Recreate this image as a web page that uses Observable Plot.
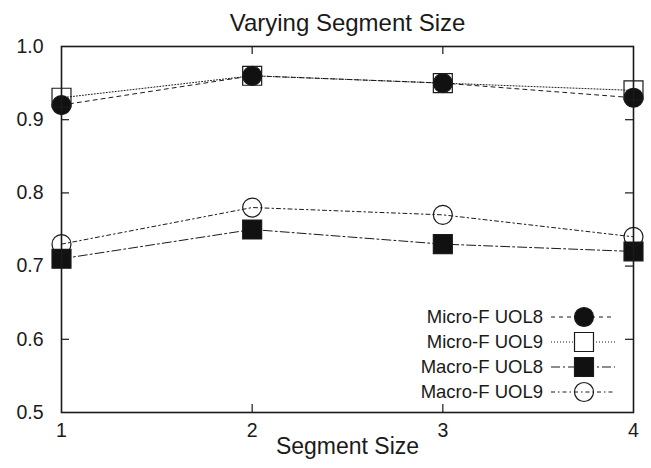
<!DOCTYPE html>
<html>
<head>
<meta charset="utf-8">
<script src="https://cdn.jsdelivr.net/npm/d3@7"></script>
<script src="https://cdn.jsdelivr.net/npm/@observablehq/plot@0.6"></script>
<style>
  html, body { margin: 0; padding: 0; background: #fff; }
  #chart { position: relative; width: 651px; height: 468px; }
</style>
</head>
<body>
<div id="chart"></div>
<script>
const segmentSizes = [1, 2, 3, 4];
const microF_UOL8 = [0.92, 0.96, 0.95, 0.93];
const microF_UOL9 = [0.93, 0.96, 0.95, 0.94];
const macroF_UOL8 = [0.71, 0.75, 0.73, 0.72];
const macroF_UOL9 = [0.73, 0.78, 0.77, 0.74];
const seriesNames = ["Micro-F UOL8", "Micro-F UOL9", "Macro-F UOL8", "Macro-F UOL9"];
const xTicks = [1, 2, 3, 4];
const yTicks = [0.5, 0.6, 0.7, 0.8, 0.9, 1.0];
const titleText = "Varying Segment Size";
const xLabel = "Segment Size";

const seriesValues = [microF_UOL8, microF_UOL9, macroF_UOL8, macroF_UOL9];
const styles = [
  {dash: "4,4", symbol: "circle", fill: "#111", r: 9.5},
  {dash: "1,2", symbol: "square", fill: "none", r: 10.7},
  {dash: "9,3,2,3", symbol: "square", fill: "#111", r: 10.7},
  {dash: "4,3,1.5,3", symbol: "circle", fill: "none", r: 9.5}
];

const W = 651, H = 468;
const mL = 61, mR = 18, mT = 46, mB = 56;
const fw = W - mL - mR, fh = H - mT - mB;
const font = "'Liberation Sans', Arial, Helvetica, sans-serif";
const ink = "#1a1a1a";

const marks = [];
// inward ticks
marks.push(Plot.tickX(xTicks.slice(1, -1), {x: d => d, insetTop: fh - 8, stroke: ink, strokeWidth: 1.2}));
marks.push(Plot.tickX(xTicks.slice(1, -1), {x: d => d, insetBottom: fh - 8, stroke: ink, strokeWidth: 1.2}));
marks.push(Plot.tickY(yTicks.slice(1, -1), {y: d => d, insetRight: fw - 8, stroke: ink, strokeWidth: 1.2}));
marks.push(Plot.tickY(yTicks.slice(1, -1), {y: d => d, insetLeft: fw - 8, stroke: ink, strokeWidth: 1.2}));

seriesValues.forEach((vals, i) => {
  const data = segmentSizes.map((x, j) => ({x, y: vals[j]}));
  const s = styles[i];
  marks.push(Plot.line(data, {x: "x", y: "y", stroke: ink, strokeWidth: 1, strokeDasharray: s.dash}));
});
seriesValues.forEach((vals, i) => {
  const data = segmentSizes.map((x, j) => ({x, y: vals[j]}));
  const s = styles[i];
  marks.push(Plot.dot(data, {x: "x", y: "y", symbol: s.symbol, r: s.r, fill: s.fill, stroke: ink, strokeWidth: 1.2}));
});

marks.push(Plot.frame({stroke: ink, strokeWidth: 1.6}));
marks.push(Plot.axisX(xTicks, {tickSize: 0, tickPadding: 11, tickFormat: d3.format("d"), fontSize: 19.5, fill: ink}));
marks.push(Plot.axisY(yTicks, {tickSize: 0, tickPadding: 18, tickFormat: d3.format(".1f"), fontSize: 19.5, fill: ink}));
marks.push(Plot.text([titleText], {text: d => d, frameAnchor: "top", dy: -33, fontSize: 24, fill: ink}));
marks.push(Plot.text([xLabel], {text: d => d, frameAnchor: "bottom", dy: 41, fontSize: 23, fill: ink}));

const plot = Plot.plot({
  width: W, height: H,
  marginLeft: mL, marginRight: mR, marginTop: mT, marginBottom: mB,
  style: {fontFamily: font, background: "#fff", color: ink},
  x: {domain: [1, 4], label: null},
  y: {domain: [0.5, 1.0], label: null},
  marks
});
document.getElementById("chart").appendChild(plot);

// legend inside plot, bottom right
const svg = d3.select(plot);
const leg = svg.append("g").attr("font-family", font).attr("font-size", 18.5).attr("fill", ink);
const symSq = d3.symbol(d3.symbolSquare, Math.PI * 10.7 * 10.7);
seriesNames.forEach((name, i) => {
  const cy = 317 + 25 * i;
  const s = styles[i];
  leg.append("text").attr("x", 543).attr("y", cy).attr("dy", "0.35em").attr("text-anchor", "end").text(name);
  leg.append("line").attr("x1", 551).attr("x2", 615).attr("y1", cy).attr("y2", cy)
    .attr("stroke", ink).attr("stroke-width", 1).attr("stroke-dasharray", s.dash);
  if (s.symbol === "circle") {
    leg.append("circle").attr("cx", 584).attr("cy", cy).attr("r", s.r)
      .attr("fill", s.fill).attr("stroke", ink).attr("stroke-width", 1.2);
  } else {
    leg.append("path").attr("d", symSq()).attr("transform", `translate(584,${cy})`)
      .attr("fill", s.fill === "none" ? "#fff" : s.fill).attr("stroke", ink).attr("stroke-width", 1.2);
  }
});
</script>
</body>
</html>
